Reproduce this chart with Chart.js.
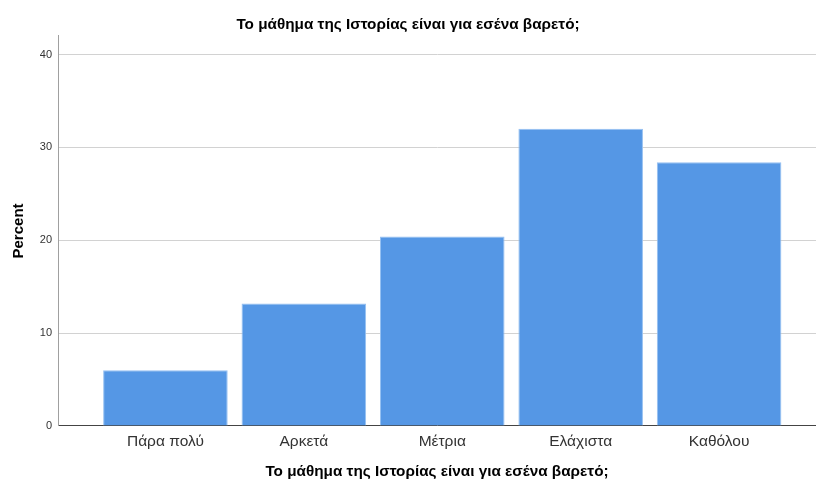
<!DOCTYPE html>
<html>
<head>
<meta charset="utf-8">
<script src="https://cdn.jsdelivr.net/npm/chart.js@4/dist/chart.umd.min.js"></script>
<style>
html,body{margin:0;padding:0;background:#fff;}
#wrap{width:816px;height:484px;position:relative;}
</style>
</head>
<body>
<div id="wrap"><canvas id="c" width="816" height="484"></canvas></div>
<script>
const chartTitle = 'Το μάθημα της Ιστορίας είναι για εσένα βαρετό;';
const xAxisTitle = 'Το μάθημα της Ιστορίας είναι για εσένα βαρετό;';
const yAxisTitle = 'Percent';
const categories = ['Πάρα πολύ', 'Αρκετά', 'Μέτρια', 'Ελάχιστα', 'Καθόλου'];
const percents = [6.0, 13.2, 20.4, 32.0, 28.4];
const yTicks = [0, 10, 20, 30, 40];

const FONT = "'Liberation Sans', Arial, sans-serif";

new Chart(document.getElementById('c'), {
  type: 'bar',
  data: {
    datasets: [{
      data: categories.map((c, i) => ({ x: i, y: percents[i] })),
      backgroundColor: 'rgb(85,151,229)',
      borderColor: 'rgb(150,192,242)',
      borderWidth: 1,
      categoryPercentage: 1,
      barPercentage: 0.9
    }]
  },
  options: {
    responsive: false,
    animation: false,
    layout: { padding: { left: 0, right: 0, top: 0, bottom: 0 } },
    plugins: {
      legend: { display: false },
      tooltip: { enabled: false },
      title: {
        display: true,
        text: chartTitle,
        color: '#000',
        font: { family: FONT, size: 15.3, weight: 'bold' },
        padding: { top: 16, bottom: 1.6 }
      }
    },
    scales: {
      x: {
        type: 'linear',
        min: -0.776,
        max: 4.70,
        offset: false,
        grid: { display: false, drawTicks: false },
        border: { display: true, color: '#444', width: 1 },
        afterBuildTicks: (s) => { s.ticks = categories.map((c, i) => ({ value: i })); },
        afterFit: (s) => { s.height = 58; },
        ticks: {
          autoSkip: false,
          maxRotation: 0,
          padding: 6,
          color: '#333',
          font: { family: FONT, size: 15.5 },
          callback: (v) => categories[v]
        },
        title: {
          display: true,
          text: xAxisTitle,
          color: '#000',
          font: { family: FONT, size: 15.3, weight: 'bold' },
          padding: { top: 0, bottom: 2.8 }
        }
      },
      y: {
        min: 0,
        max: 42,
        grid: { color: '#d2d2d2', drawTicks: false, lineWidth: 1 },
        border: { display: true, color: '#a0a0a0', width: 1 },
        afterBuildTicks: (s) => { s.ticks = yTicks.map(v => ({ value: v })); },
        afterFit: (s) => { s.width = 58; },
        ticks: {
          padding: 6,
          color: '#333',
          font: { family: FONT, size: 11 }
        },
        title: {
          display: true,
          text: yAxisTitle,
          color: '#000',
          font: { family: FONT, size: 15, weight: 'bold' },
          padding: { top: 10, bottom: 0 }
        }
      }
    }
  }
});
</script>
</body>
</html>
